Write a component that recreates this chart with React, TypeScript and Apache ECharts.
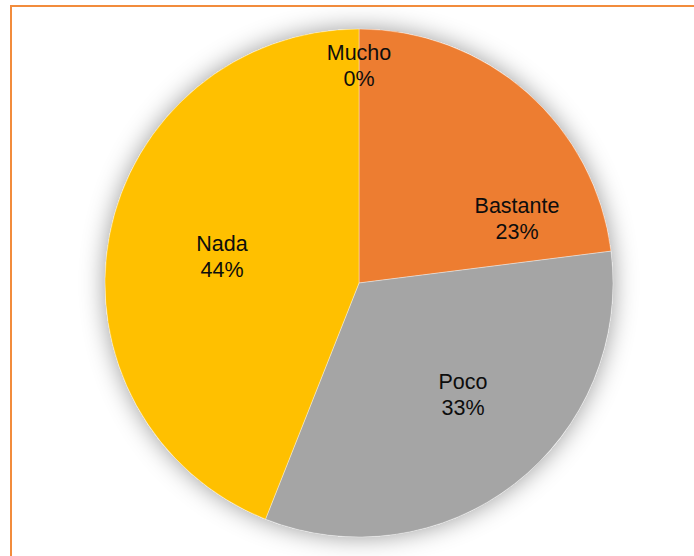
import React, { useEffect, useRef } from "react";
import * as echarts from "echarts";

const categories = ["Mucho", "Bastante", "Poco", "Nada"];
const values = [0, 23, 33, 44];
const colors = ["#4472C4", "#ED7D31", "#A5A5A5", "#FFC000"];
// label anchor points (pixels), as placed in the reference
const labelPos: [number, number][] = [
  [359, 66],
  [517, 219],
  [463, 395],
  [222, 257],
];

export default function App() {
  const ref = useRef<HTMLDivElement>(null);
  useEffect(() => {
    if (!ref.current) return;
    const chart = echarts.init(ref.current, null, { renderer: "svg" });
    chart.setOption({
      animation: false,
      backgroundColor: "#ffffff",
      graphic: [
        {
          type: "rect",
          shape: { x: 11, y: 6, width: 720, height: 600 },
          style: { fill: "none", stroke: "#F28C3C", lineWidth: 2 },
          silent: true,
        },
      ],
      series: [
        {
          type: "pie",
          silent: true,
          center: [359, 283],
          radius: 254,
          label: { show: false },
          labelLine: { show: false },
          itemStyle: {
            color: "#ffffff",
            shadowBlur: 24,
            shadowColor: "rgba(0,0,0,0.4)",
            shadowOffsetX: 0,
            shadowOffsetY: 0,
          },
          data: [{ value: 1, name: "bg" }],
          z: 1,
        },
        {
          type: "pie",
          center: [359, 283],
          radius: 254,
          startAngle: 90,
          clockwise: true,
          z: 2,
          itemStyle: { borderColor: "rgba(255,255,255,0.6)", borderWidth: 0.6 },
          label: {
            show: true,
            position: "inside",
            formatter: (p: any) => `${p.name}\n${Math.round(p.percent)}%`,
            fontFamily: "Liberation Sans, Arial, sans-serif",
            fontSize: 21.5,
            lineHeight: 26,
            color: "#0d0d0d",
            align: "center",
          },
          labelLine: { show: false },
          labelLayout: (params: any) => {
            const p = labelPos[params.dataIndex];
            return { x: p[0], y: p[1], align: "center", verticalAlign: "middle" };
          },
          data: categories.map((c, i) => ({
            name: c,
            value: values[i],
            itemStyle: { color: colors[i] },
          })),
        },
      ],
    });
    return () => chart.dispose();
  }, []);
  return (
    <div
      ref={ref}
      style={{ position: "fixed", left: 0, top: 0, width: 694, height: 556 }}
    />
  );
}
